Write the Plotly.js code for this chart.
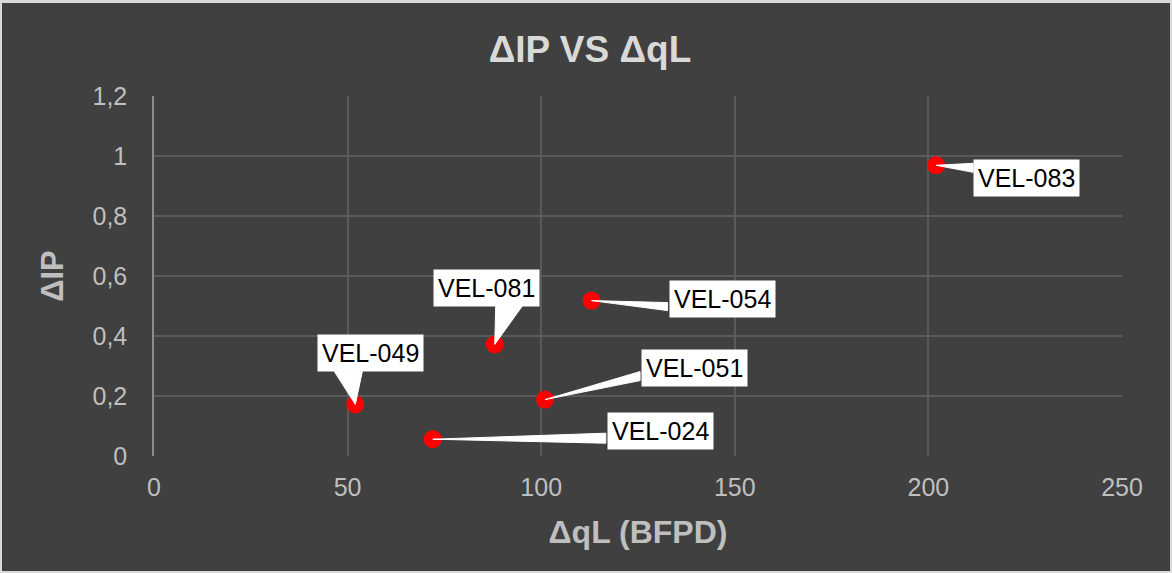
<!DOCTYPE html>
<html>
<head>
<meta charset="utf-8">
<script src="https://cdn.plot.ly/plotly-3.0.1.min.js"></script>
<style>
  html, body { margin: 0; padding: 0; background: #404040; }
  #wrap { position: relative; width: 1172px; height: 573px; }
  #chart { width: 1172px; height: 573px; }
  #frame { position: absolute; left: 0; top: 0; width: 1172px; height: 573px; box-sizing: border-box;
           border: 2px solid #d9d9d9; border-top-width: 3px; pointer-events: none; }
</style>
</head>
<body>
<div id="wrap"><div id="chart"></div><div id="frame"></div></div>
<script>
// ---- data ----
const wells = ["VEL-049", "VEL-081", "VEL-054", "VEL-051", "VEL-024", "VEL-083"];
const deltaQL = [52, 88, 113, 101, 72, 202];        // ΔqL (BFPD)
const deltaIP = [0.172, 0.372, 0.518, 0.188, 0.056, 0.969]; // ΔIP
const yTickVals = [0, 0.2, 0.4, 0.6, 0.8, 1, 1.2];
const yTickText = ["0", "0,2", "0,4", "0,6", "0,8", "1", "1,2"];
const xTickVals = [0, 50, 100, 150, 200, 250];
const xTickText = ["0", "50", "100", "150", "200", "250"];

// ---- label placement (pixel offsets from each point) ----
// box: centre offset; wedge: two base points of the callout wedge
const callouts = {
  "VEL-049": { box: [15, -51],  wedge: [[-21, -33], [7, -33]] },
  "VEL-081": { box: [-8, -56],  wedge: [[1, -39], [28, -39]] },
  "VEL-054": { box: [131, -2],  wedge: [[76, 2], [76, 10]] },
  "VEL-051": { box: [149, -32], wedge: [[95, -28], [95, -19]] },
  "VEL-024": { box: [228, -8],  wedge: [[173, -6], [173, 4]] },
  "VEL-083": { box: [90, 13],   wedge: [[37, -2], [37, 7]] }
};

const W = 1172, H = 573;
const M = { l: 154, r: 50, t: 96, b: 117 };
const xRange = [0, 250], yRange = [0, 1.2];
const pxPerX = (W - M.l - M.r) / (xRange[1] - xRange[0]);
const pxPerY = (H - M.t - M.b) / (yRange[1] - yRange[0]);

const shapes = [];
const annotations = [];
wells.forEach((name, i) => {
  const c = callouts[name];
  const x0 = deltaQL[i], y0 = deltaIP[i];
  const p = c.wedge.map(([dx, dy]) => [x0 + dx / pxPerX, y0 - dy / pxPerY]);
  shapes.push({
    type: "path", xref: "x", yref: "y", layer: "above",
    path: `M ${x0} ${y0} L ${p[0][0]} ${p[0][1]} L ${p[1][0]} ${p[1][1]} Z`,
    fillcolor: "#ffffff", line: { color: "#ffffff", width: 1 }
  });
  annotations.push({
    x: x0, y: y0, xref: "x", yref: "y", text: name, showarrow: false,
    xshift: c.box[0], yshift: -c.box[1],
    bgcolor: "#ffffff", borderpad: 4,
    font: { family: "Liberation Sans, Arial, sans-serif", size: 25, color: "#000000" }
  });
});

const trace = {
  type: "scatter", mode: "markers",
  x: deltaQL, y: deltaIP, text: wells,
  marker: { color: "#ff0000", size: 18 },
  hoverinfo: "text+x+y"
};

const axisFont = { family: "Liberation Sans, Arial, sans-serif", size: 25, color: "#bfbfbf" };
const layout = {
  width: W, height: H,
  margin: M,
  paper_bgcolor: "#404040", plot_bgcolor: "#404040",
  showlegend: false,
  separators: ",.",
  title: {
    text: "<b>ΔIP VS ΔqL</b>",
    font: { family: "Liberation Sans, Arial, sans-serif", size: 37, color: "#d9d9d9" },
    xref: "container", x: 590 / W, xanchor: "center",
    yref: "container", y: 1 - 49 / H, yanchor: "middle"
  },
  xaxis: {
    range: xRange, tickvals: xTickVals, ticktext: xTickText,
    showgrid: true, gridcolor: "#5a5a5a", gridwidth: 1.5,
    zeroline: false, showline: false, ticks: "",
    tickfont: axisFont, ticklabelstandoff: 14,
    title: { text: "<b>ΔqL (BFPD)</b>", standoff: 20,
             font: { family: "Liberation Sans, Arial, sans-serif", size: 32, color: "#bfbfbf" } }
  },
  yaxis: {
    range: yRange, tickvals: yTickVals, ticktext: yTickText,
    showgrid: true, gridcolor: "#5a5a5a", gridwidth: 1.5,
    zeroline: false, showline: true, linecolor: "#8c8c8c", linewidth: 1.5, ticks: "",
    tickfont: axisFont, ticklabelstandoff: 20,
    title: { text: "<b>ΔIP</b>", standoff: 20,
             font: { family: "Liberation Sans, Arial, sans-serif", size: 31, color: "#bfbfbf" } }
  },
  shapes: shapes,
  annotations: annotations
};

Plotly.newPlot("chart", [trace], layout, { displayModeBar: false, responsive: false });
</script>
</body>
</html>
